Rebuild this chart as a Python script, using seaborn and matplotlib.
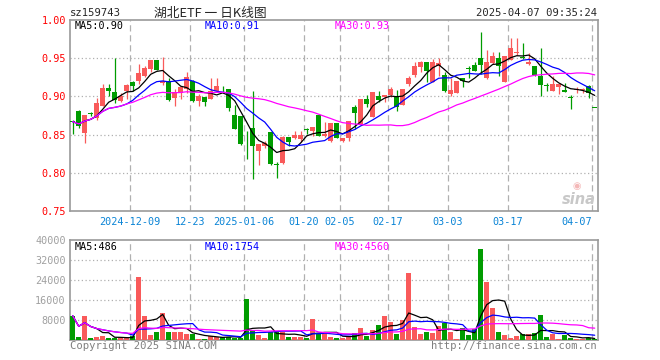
import numpy as np
import pandas as pd
import matplotlib
matplotlib.use("Agg")
import matplotlib.pyplot as plt
import seaborn as sns

# ---------------- data ----------------
opens = [0.868, 0.881, 0.852, 0.878, 0.8715, 0.887, 0.911, 0.9057, 0.894, 0.9066,
         0.9189, 0.920, 0.927, 0.936, 0.948, 0.9175, 0.920, 0.8978, 0.9044, 0.9096,
         0.9197, 0.8943, 0.8996, 0.8965, 0.9075, 0.9088, 0.9096, 0.8754, 0.8746, 0.8447,
         0.8583, 0.8285, 0.8351, 0.854, 0.811, 0.8123, 0.8474, 0.846, 0.8439, 0.857,
         0.8548, 0.8759, 0.8482, 0.8417, 0.8649, 0.8417, 0.8456, 0.8855, 0.8623, 0.8965,
         0.8724, 0.9009, 0.8987, 0.9018, 0.9009, 0.8886, 0.9158, 0.928, 0.9382, 0.9447,
         0.9193, 0.9404, 0.928, 0.9031, 0.9044, 0.9237, 0.9373, 0.9412, 0.950, 0.9237,
         0.9439, 0.950, 0.9193, 0.9482, 0.9575, 0.9518, 0.9425, 0.9395, 0.9263, 0.9145,
         0.9075, 0.9118, 0.9088, 0.8991, 0.9083, 0.9083, 0.9132, 0.8856]
highs = [0.869, 0.882, 0.875, 0.880, 0.898, 0.916, 0.916, 0.950, 0.905, 0.916,
         0.920, 0.9425, 0.940, 0.948, 0.948, 0.951, 0.9237, 0.9096, 0.9118, 0.9316,
         0.9215, 0.903, 0.8996, 0.9237, 0.9237, 0.914, 0.9096, 0.8886, 0.8746, 0.8548,
         0.9075, 0.8373, 0.8417, 0.854, 0.814, 0.8482, 0.8474, 0.8548, 0.8548, 0.8592,
         0.8605, 0.8759, 0.8667, 0.8649, 0.8649, 0.8452, 0.868, 0.8886, 0.8965, 0.9022,
         0.9053, 0.9075, 0.9018, 0.9118, 0.9088, 0.9096, 0.9272, 0.9447, 0.9469, 0.9447,
         0.9491, 0.950, 0.9316, 0.9237, 0.9206, 0.9237, 0.9395, 0.9456, 0.984, 0.9601,
         0.9579, 0.9579, 0.9526, 0.9763, 0.9763, 0.9702, 0.957, 0.9395, 0.9632, 0.9175,
         0.9263, 0.9162, 0.9175, 0.9018, 0.9118, 0.9105, 0.9149, 0.8856]
lows = [0.851, 0.858, 0.839, 0.874, 0.869, 0.887, 0.900, 0.892, 0.8925, 0.8965,
        0.9075, 0.916, 0.925, 0.9325, 0.934, 0.915, 0.8943, 0.8877, 0.8965, 0.9044,
        0.893, 0.8877, 0.8868, 0.8965, 0.906, 0.9044, 0.8811, 0.857, 0.836, 0.8175,
        0.7921, 0.8096, 0.8329, 0.8096, 0.7934, 0.811, 0.8351, 0.8439, 0.8404, 0.8504,
        0.8482, 0.8482, 0.8474, 0.8404, 0.845, 0.8404, 0.8417, 0.857, 0.8623, 0.8855,
        0.8724, 0.8921, 0.893, 0.8987, 0.8811, 0.8886, 0.914, 0.925, 0.9316, 0.9184,
        0.9184, 0.9272, 0.9061, 0.9009, 0.9044, 0.9118, 0.9237, 0.9338, 0.9294, 0.9228,
        0.9425, 0.9272, 0.9193, 0.9482, 0.9544, 0.9491, 0.9412, 0.9272, 0.900, 0.9075,
        0.9075, 0.9031, 0.9053, 0.8833, 0.9044, 0.9044, 0.8974, 0.8855]
closes = [0.867, 0.861, 0.875, 0.877, 0.892, 0.9105, 0.9075, 0.895, 0.901, 0.915,
          0.914, 0.9307, 0.937, 0.948, 0.934, 0.920, 0.8956, 0.9053, 0.9118, 0.925,
          0.8943, 0.9009, 0.893, 0.9075, 0.914, 0.9079, 0.8842, 0.8579, 0.8373, 0.8439,
          0.8351, 0.8373, 0.8395, 0.811, 0.8101, 0.8469, 0.8404, 0.8491, 0.8491, 0.8561,
          0.8605, 0.8482, 0.8504, 0.8649, 0.846, 0.8452, 0.868, 0.8781, 0.8965, 0.8899,
          0.9053, 0.8956, 0.9018, 0.9096, 0.8855, 0.9096, 0.9237, 0.9404, 0.9447, 0.9338,
          0.9447, 0.9439, 0.9075, 0.9088, 0.9206, 0.9206, 0.936, 0.9338, 0.9412, 0.9456,
          0.9526, 0.9395, 0.9526, 0.9632, 0.9583, 0.9509, 0.9456, 0.928, 0.9149, 0.9136,
          0.9162, 0.9162, 0.9061, 0.8982, 0.9092, 0.9092, 0.9044, 0.8855]
volumes = [9700, 1300, 9700, 900, 1300, 1700, 900, 700, 700, 700,
           1700, 25300, 9700, 2000, 3300, 10900, 3300, 3100, 3100, 2500,
           2500, 500, 500, 1700, 1200, 1300, 1300, 900, 700, 16400,
           4000, 2000, 900, 3100, 3100, 3100, 1200, 1200, 1200, 700,
           8400, 2300, 2700, 1200, 700, 700, 1600, 2800, 4700, 1600,
           4000, 6000, 9600, 7200, 2400, 8000, 26800, 5200, 2400, 3200,
           2800, 5600, 6900, 3200, 400, 4700, 2000, 4300, 36400, 23200,
           12900, 3200, 2000, 800, 1600, 2400, 2400, 2800, 10000, 1200,
           2400, 400, 2100, 900, 400, 400, 900, 400]

tick_idx = [10, 20, 29, 39, 45, 53, 63, 73, 87]
tick_labels = ["2024-12-09", "12-23", "2025-01-06", "01-20", "02-05",
               "02-17", "03-03", "03-17", "04-07"]
price_ticks = [0.75, 0.80, 0.85, 0.90, 0.95, 1.00]
vol_ticks = [8000, 16000, 24000, 32000, 40000]

code_text = "sz159743"
title_text = "湖北ETF 一 日K线图"
time_text = "2025-04-07 09:35:24"
price_ma_labels = ["MA5:0.90", "MA10:0.91", "MA30:0.93"]
vol_ma_labels = ["MA5:486", "MA10:1754", "MA30:4560"]
copyright_text = "Copyright 2025 SINA.COM"
url_text = "http://finance.sina.com.cn"

# ---------------- styling ----------------
RED = "#f95a5a"
GREEN = "#009c00"
GRID = "#b0b0b0"
FRAME = "#9a9a9a"
MA_COLORS = ["#000000", "#0000ff", "#ff00ff"]
MONO = "DejaVu Sans Mono"

sns.set_theme(style="white")
plt.rcParams["font.family"] = ["DejaVu Sans", "Noto Sans CJK SC"]

W, H = 660, 360
fig = plt.figure(figsize=(W / 100, H / 100), dpi=100)
fig.patch.set_facecolor("white")


def fx(x):
    return x / W


def fy(y):
    return 1 - y / H


ax1 = fig.add_axes([fx(70), fy(211), 528 / W, 191 / H])
ax2 = fig.add_axes([fx(70), fy(340), 528 / W, 100 / H])

n = len(closes)
idx = np.arange(n)
o = np.array(opens)
c = np.array(closes)
hi = np.array(highs)
lo = np.array(lows)
up = c >= o
colors = np.where(up, RED, GREEN)

df = pd.DataFrame({"idx": idx, "close": c, "vol": volumes,
                   "dir": np.where(up, "up", "down")})
for w in (5, 10, 30):
    df[f"ma{w}"] = df["close"].rolling(w, min_periods=1).mean()
    df[f"vma{w}"] = df["vol"].rolling(w, min_periods=1).mean()

# ---------------- price panel ----------------
ax1.vlines(idx, lo, hi, colors=colors, lw=0.9, zorder=3)
body = np.maximum(np.abs(c - o), 0.0011)
bottom = np.where(np.abs(c - o) < 0.0011, (o + c) / 2 - 0.00055, np.minimum(o, c))
ax1.bar(idx, body, bottom=bottom, width=0.8, color=colors, linewidth=0, zorder=3)

for w, col in zip((5, 10, 30), MA_COLORS):
    sns.lineplot(data=df, x="idx", y=f"ma{w}", color=col, lw=0.9, ax=ax1,
                 estimator=None, zorder=4)

ax1.set_xlim(-0.45, n - 0.45)
ax1.set_ylim(0.75, 1.00)

# ---------------- volume panel ----------------
sns.barplot(data=df, x="idx", y="vol", hue="dir",
            palette={"up": RED, "down": GREEN}, native_scale=True,
            width=0.8, dodge=False, saturation=1, legend=False,
            errorbar=None, linewidth=0, ax=ax2, zorder=3)
for w, col in zip((5, 10, 30), MA_COLORS):
    sns.lineplot(data=df, x="idx", y=f"vma{w}", color=col, lw=0.9, ax=ax2,
                 estimator=None, zorder=4)
ax2.set_xlim(-0.45, n - 0.45)
ax2.set_ylim(0, 40000)

# ---------------- axes decoration ----------------
for ax in (ax1, ax2):
    ax.set_facecolor("white")
    ax.set_xlabel("")
    ax.set_ylabel("")
    for s in ax.spines.values():
        s.set_visible(True)
        s.set_color(FRAME)
        s.set_linewidth(1.2)
    for t in tick_idx:
        ax.axvline(t - 0.42, color=GRID, lw=0.9, ls=(0, (5, 3)), zorder=1)
    ax.tick_params(length=0)

for p in price_ticks[1:-1]:
    ax1.axhline(p, color=GRID, lw=0.9, ls=(0, (1, 2)), zorder=1)
for v in vol_ticks[:-1]:
    ax2.axhline(v, color=GRID, lw=0.9, ls=(0, (1, 2)), zorder=1)

ax1.set_yticks(price_ticks)
ax1.set_yticklabels([f"{p:.2f}" for p in price_ticks], color="#ff0000",
                    fontsize=7.3, family=MONO)
ax1.tick_params(axis="y", pad=3)
ax1.set_xticks([t - 0.42 for t in tick_idx])
ax1.set_xticklabels(tick_labels, color="#0a84d6", fontsize=7.3, family=MONO)
ax1.tick_params(axis="x", pad=4)
ax1.get_xticklabels()[-1].set_ha("right")

ax2.set_yticks(vol_ticks)
ax2.set_yticklabels([str(v) for v in vol_ticks], color="#a0a0a0",
                    fontsize=7.3, family=MONO)
ax2.tick_params(axis="y", pad=3)
ax2.set_xticks([])

# ---------------- texts ----------------
fig.text(fx(70), fy(13), code_text, fontsize=7.6, family=MONO, va="center", ha="left")
fig.text(fx(210), fy(13), title_text, fontsize=9.2,
         family=["Noto Sans CJK SC", "DejaVu Sans"], va="center", ha="center")
fig.text(fx(597), fy(13), time_text, fontsize=7.6, family=MONO, va="center", ha="right")

for lab, col, x in zip(price_ma_labels, MA_COLORS, (75, 205, 335)):
    fig.text(fx(x), fy(26), lab, color=col, fontsize=7.3, family=MONO,
             va="center", ha="left")
for lab, col, x in zip(vol_ma_labels, MA_COLORS, (75, 205, 335)):
    fig.text(fx(x), fy(247), lab, color=col, fontsize=7.3, family=MONO,
             va="center", ha="left")

fig.text(fx(70), fy(346), copyright_text, color="#808080", fontsize=7.6,
         family=MONO, va="center", ha="left")
fig.text(fx(597), fy(346), url_text, color="#808080", fontsize=7.6,
         family=MONO, va="center", ha="right")

# sina watermark
fig.text(fx(596), fy(199), "sina", color="#c8c8c8", fontsize=10.5,
         fontweight="bold", style="italic", va="center", ha="right")
fig.text(fx(577), fy(186), "◉", color="#f4b8b8", fontsize=7, va="center",
         ha="center", family="DejaVu Sans")

fig.savefig("out.png", dpi=100, facecolor="white")
